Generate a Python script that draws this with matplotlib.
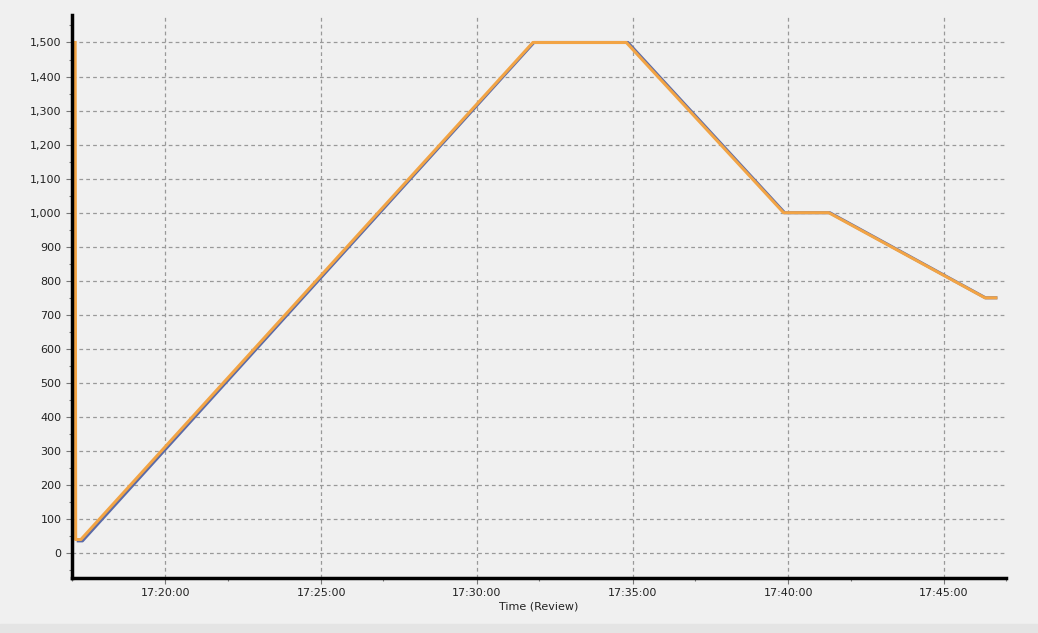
import numpy as np
import pandas as pd
import matplotlib
matplotlib.use("Agg")
import matplotlib.pyplot as plt
import matplotlib.dates as mdates
from matplotlib.ticker import MultipleLocator, StrMethodFormatter

## series
review_times = ["17:17:12", "17:17:20", "17:31:50", "17:34:51", "17:39:53", "17:41:20", "17:46:20", "17:46:40"]
review_vals = [36, 36, 1500, 1500, 1000, 1000, 750, 750]

target_times = ["17:17:06", "17:17:07", "17:17:17", "17:31:48", "17:34:48", "17:39:51", "17:41:18", "17:46:19", "17:46:40"]
target_vals = [1500, 40, 40, 1500, 1500, 1000, 1000, 750, 750]

day = "2020-01-01 "
x_blue = pd.to_datetime([day + t for t in review_times])
x_orange = pd.to_datetime([day + t for t in target_times])

bg = "#f0f0f0"
fig = plt.figure(figsize=(10.38, 6.33), dpi=100, facecolor=bg)
ax = fig.add_axes([0.0694, 0.0869, 0.9, 0.889], facecolor=bg)
# slightly darker strip at the very bottom
fig.patches.append(plt.Rectangle((0, 0), 1, 0.014, transform=fig.transFigure,
                                 color="#e4e4e4", zorder=0))

ax.plot(x_blue, review_vals, color="#5a6aa8", lw=2.2, solid_joinstyle="round")
ax.plot(x_orange, target_vals, color="#f2a445", lw=2.2, solid_joinstyle="round")

ax.set_xlim(pd.Timestamp(day + "17:17:00"), pd.Timestamp(day + "17:47:00"))
ax.set_ylim(-73, 1580)

ax.xaxis.set_major_locator(mdates.MinuteLocator(byminute=range(0, 60, 5)))
ax.xaxis.set_minor_locator(mdates.MinuteLocator(byminute=[2, 7, 12, 17, 22, 27, 32, 37, 42, 47, 52, 57]))
ax.xaxis.set_major_formatter(mdates.DateFormatter("%H:%M:%S"))
ax.yaxis.set_major_locator(MultipleLocator(100))
ax.yaxis.set_minor_locator(MultipleLocator(50))
ax.yaxis.set_major_formatter(StrMethodFormatter("{x:,.0f}"))

ax.grid(True, which="major", color="#999999", ls=(0, (3, 2.5)), lw=0.9)
for s in ["top", "right"]:
    ax.spines[s].set_visible(False)
for s in ["left", "bottom"]:
    ax.spines[s].set_linewidth(2.5)
    ax.spines[s].set_color("black")

ax.tick_params(which="major", length=4, width=0.8, color="#777777", labelsize=8, labelcolor="#222222")
ax.tick_params(which="minor", length=2, width=0.8, color="#777777")
ax.set_xlabel("Time (Review)", fontsize=8, color="#222222", labelpad=2)

fig.savefig("out.png", dpi=100, facecolor=bg)
